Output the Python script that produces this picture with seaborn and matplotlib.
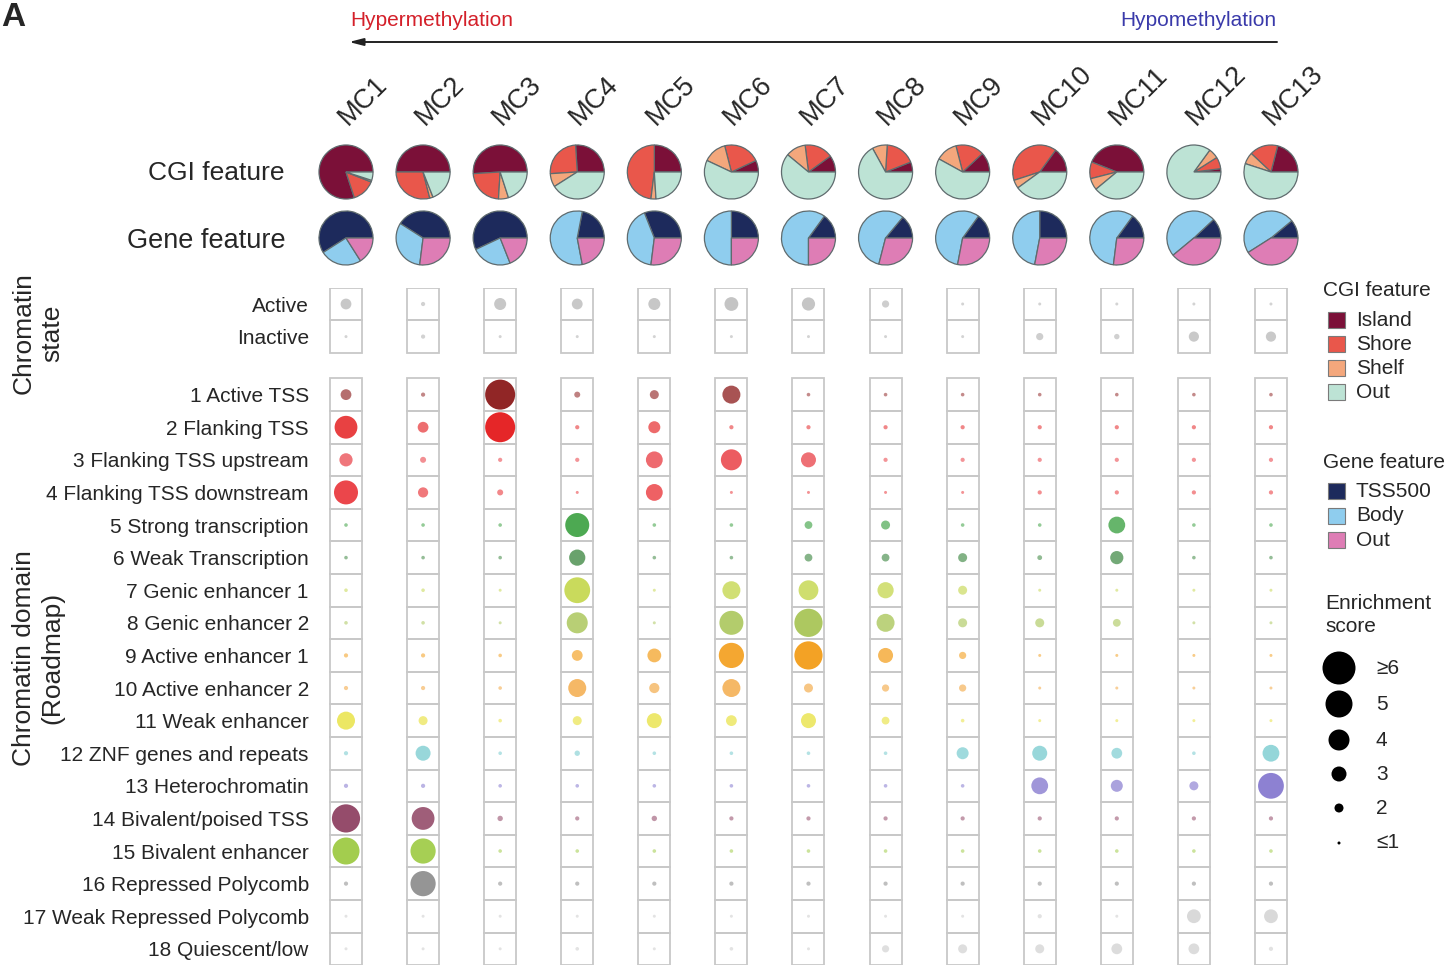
import numpy as np
import pandas as pd
import matplotlib
matplotlib.use("Agg")
import matplotlib.pyplot as plt
import matplotlib.transforms as mtransforms
from matplotlib.patches import Rectangle
import seaborn as sns

sns.set_theme(style="white")
plt.rcParams["font.family"] = ["Liberation Sans", "DejaVu Sans"]

# ---------------------------------------------------------------- data
clusters = ["MC1", "MC2", "MC3", "MC4", "MC5", "MC6", "MC7",
            "MC8", "MC9", "MC10", "MC11", "MC12", "MC13"]

# CGI feature composition of each methylation cluster
cgi_island = [0.80, 0.50, 0.51, 0.26, 0.25, 0.07, 0.10, 0.06, 0.12, 0.15, 0.44, 0.02, 0.21]
cgi_shore  = [0.14, 0.29, 0.23, 0.25, 0.48, 0.22, 0.17, 0.18, 0.17, 0.40, 0.10, 0.07, 0.17]
cgi_shelf  = [0.01, 0.02, 0.06, 0.08, 0.03, 0.14, 0.12, 0.09, 0.13, 0.05, 0.07, 0.06, 0.07]
cgi_out    = [0.05, 0.19, 0.20, 0.41, 0.24, 0.57, 0.61, 0.67, 0.58, 0.40, 0.39, 0.85, 0.55]

# Gene feature composition of each methylation cluster
gene_tss500 = [0.59, 0.41, 0.57, 0.22, 0.31, 0.25, 0.15, 0.14, 0.15, 0.25, 0.15, 0.12, 0.11]
gene_body   = [0.25, 0.32, 0.24, 0.56, 0.42, 0.50, 0.60, 0.57, 0.57, 0.47, 0.58, 0.49, 0.48]
gene_out    = [0.16, 0.27, 0.19, 0.22, 0.27, 0.25, 0.25, 0.29, 0.28, 0.28, 0.27, 0.39, 0.41]

# Enrichment scores: chromatin state
state_labels = ["Active", "Inactive"]
score_active   = [2.3, 1.2, 2.5, 2.3, 2.5, 2.8, 2.7, 1.7, 1.0, 1.0, 1.0, 1.0, 1.0]
score_inactive = [1.0, 1.2, 1.0, 1.0, 1.0, 1.0, 1.0, 1.0, 1.0, 1.7, 1.4, 2.2, 2.2]

# Enrichment scores: Roadmap 18-state chromatin domains
domain_labels = [
    "1 Active TSS", "2 Flanking TSS", "3 Flanking TSS upstream",
    "4 Flanking TSS downstream", "5 Strong transcription", "6 Weak Transcription",
    "7 Genic enhancer 1", "8 Genic enhancer 2", "9 Active enhancer 1",
    "10 Active enhancer 2", "11 Weak enhancer", "12 ZNF genes and repeats",
    "13 Heterochromatin", "14 Bivalent/poised TSS", "15 Bivalent enhancer",
    "16 Repressed Polycomb", "17 Weak Repressed Polycomb", "18 Quiescent/low",
]
score_tssa     = [2.3, 1.2, 5.5, 1.5, 2.0, 3.5, 1.1, 1.1, 1.1, 1.1, 1.1, 1.1, 1.1]
score_tssflnk  = [4.3, 2.3, 5.5, 1.2, 2.5, 1.2, 1.2, 1.2, 1.2, 1.2, 1.2, 1.2, 1.2]
score_tssflnku = [2.7, 1.5, 1.2, 1.2, 3.3, 4.0, 3.0, 1.2, 1.2, 1.2, 1.2, 1.2, 1.2]
score_tssflnkd = [4.5, 2.2, 1.5, 1.0, 3.3, 1.0, 1.0, 1.0, 1.0, 1.2, 1.2, 1.2, 1.2]
score_tx       = [1.1, 1.1, 1.1, 4.5, 1.1, 1.1, 1.8, 2.0, 1.1, 1.1, 3.3, 1.1, 1.1]
score_txwk     = [1.1, 1.1, 1.1, 3.2, 1.1, 1.1, 1.8, 1.8, 2.0, 1.3, 2.7, 1.1, 1.1]
score_enhg1    = [1.1, 1.1, 1.0, 4.8, 1.0, 3.5, 3.8, 3.2, 2.0, 1.0, 1.0, 1.0, 1.0]
score_enhg2    = [1.1, 1.1, 1.0, 4.0, 1.0, 4.5, 5.2, 3.5, 2.0, 2.0, 1.8, 1.0, 1.0]
score_enha1    = [1.2, 1.2, 1.1, 2.3, 2.8, 4.7, 5.2, 3.0, 1.7, 1.0, 1.0, 1.0, 1.0]
score_enha2    = [1.2, 1.2, 1.1, 3.5, 2.2, 3.5, 2.0, 1.7, 1.7, 1.0, 1.0, 1.0, 1.0]
score_enhwk    = [3.5, 2.0, 1.1, 2.0, 3.0, 2.3, 3.0, 1.8, 1.1, 1.0, 1.0, 1.0, 1.0]
score_znf      = [1.2, 3.0, 1.1, 1.4, 1.1, 1.1, 1.1, 1.1, 2.5, 3.0, 2.3, 1.1, 3.3]
score_het      = [1.2, 1.2, 1.1, 1.1, 1.1, 1.1, 1.1, 1.1, 1.1, 3.3, 2.5, 2.0, 4.8]
score_tssbiv   = [5.2, 4.3, 1.4, 1.2, 1.4, 1.2, 1.2, 1.2, 1.2, 1.2, 1.2, 1.2, 1.2]
score_enhbiv   = [5.0, 4.7, 1.1, 1.1, 1.1, 1.1, 1.1, 1.1, 1.1, 1.1, 1.1, 1.1, 1.1]
score_reprpc   = [1.2, 4.7, 1.2, 1.2, 1.2, 1.2, 1.2, 1.2, 1.2, 1.2, 1.2, 1.2, 1.2]
score_reprpcwk = [1.0, 1.0, 1.0, 1.0, 1.0, 1.0, 1.0, 1.0, 1.0, 1.2, 1.0, 2.8, 2.8]
score_quies    = [1.0, 1.0, 1.0, 1.1, 1.0, 1.1, 1.0, 1.7, 2.0, 2.0, 2.3, 2.3, 1.2]

size_legend_scores = [6, 5, 4, 3, 2, 1]
size_legend_labels = ["\u22656", "5", "4", "3", "2", "\u22641"]

# ---------------------------------------------------------------- styles
cgi_colors = ["#7b1038", "#e9574b", "#f4a77c", "#bde3d5"]
cgi_names = ["Island", "Shore", "Shelf", "Out"]
gene_colors = ["#1d2a5c", "#8fcdee", "#de7db5"]
gene_names = ["TSS500", "Body", "Out"]

state_colors = ["#a9a9a9", "#a9a9a9"]
domain_colors = [
    "#8b1a1a", "#e41a1c", "#e8333a", "#e8262b", "#2e9a34", "#2f7f34",
    "#c2d545", "#a6c452", "#f39a12", "#f2a033", "#e6df2f", "#6cc7cb",
    "#7d70cc", "#8c3d5e", "#99c83b", "#858585", "#c8c8c8", "#c8c8c8",
]
domain_scores = [score_tssa, score_tssflnk, score_tssflnku, score_tssflnkd,
                 score_tx, score_txwk, score_enhg1, score_enhg2, score_enha1,
                 score_enha2, score_enhwk, score_znf, score_het, score_tssbiv,
                 score_enhbiv, score_reprpc, score_reprpcwk, score_quies]

row_labels = state_labels + domain_labels
row_scores = [score_active, score_inactive] + domain_scores
row_colors = state_colors + domain_colors
group_gap = 1.78
row_y = [0.0, 1.0] + [1.0 + group_gap + k for k in range(len(domain_labels))]


def marker_area(score):
    """Marker area (pt^2) for an enrichment score; diameter grows linearly."""
    s = min(max(score, 1.0), 6.0)
    return (0.72 * (6.0 * s - 3.0)) ** 2


def marker_alpha(score):
    return min(1.0, 0.5 + 0.1 * (max(score, 1.0) - 1.0))


# ---------------------------------------------------------------- figure
W, H = 1454, 969
fig = plt.figure(figsize=(W / 100, H / 100), dpi=100)

col_px = 77.08
x_left, x_right = 346 - 0.5 * col_px, 346 + 12.5 * col_px
row_px = 32.6
y_top = 304 - 0.5 * row_px
y_lim_bottom = row_y[-1] + 0.5
y_bottom = y_top + (y_lim_bottom + 0.5) * row_px

ax = fig.add_axes([x_left / W, 1 - y_bottom / H,
                   (x_right - x_left) / W, (y_bottom - y_top) / H])

records = []
for label, scores, y in zip(row_labels, row_scores, row_y):
    for i, sc in enumerate(scores):
        records.append({"x": i, "y": y, "state": label, "score": sc})
df = pd.DataFrame(records)

palette = dict(zip(row_labels, row_colors))
sizes = {v: marker_area(v) for v in df["score"].unique()}
sns.scatterplot(data=df, x="x", y="y", hue="state", palette=palette,
                size="score", sizes=sizes, legend=False, linewidth=0,
                ax=ax, zorder=3)
pts = ax.collections[-1]
fc = pts.get_facecolors()
fc[:, 3] = [marker_alpha(v) for v in df["score"]]
pts.set_facecolors(fc)

# cell frames
half_w = 16.0 / col_px
for i in range(len(clusters)):
    for y in row_y:
        ax.add_patch(Rectangle((i - half_w, y - 0.5), 2 * half_w, 1.0,
                               fill=False, ec="#c8c8c8", lw=1.3, zorder=1))

ax.set_xlim(-0.5, len(clusters) - 0.5)
ax.set_ylim(y_lim_bottom, -0.5)
ax.set_xticks([])
ax.set_yticks(row_y)
ax.set_yticklabels(row_labels, fontsize=15)
ax.tick_params(axis="y", length=0, pad=-1)
for sp in ax.spines.values():
    sp.set_visible(False)
ax.set_xlabel("")
ax.set_ylabel("")

# cluster labels
trans = mtransforms.blended_transform_factory(ax.transData, fig.transFigure)
for i, name in enumerate(clusters):
    ax.text(i + 0.02, 1 - 126 / H, name, transform=trans, rotation=45,
            rotation_mode="anchor", ha="left", va="baseline", fontsize=19.5)

# ---------------------------------------------------------------- pies
pie_top, pie_bottom = 130, 280
pax = fig.add_axes([x_left / W, 1 - pie_bottom / H,
                    (x_right - x_left) / W, (pie_bottom - pie_top) / H])
pie_r = 27.0 / col_px
cgi_y = (pie_bottom - 172) / col_px
gene_y = (pie_bottom - 238) / col_px
wedge_kw = dict(edgecolor="#5f6b6e", linewidth=0.9)
for i in range(len(clusters)):
    pax.pie([cgi_island[i], cgi_shore[i], cgi_shelf[i], cgi_out[i]],
            colors=cgi_colors, center=(i, cgi_y), radius=pie_r,
            startangle=0, counterclock=True, wedgeprops=wedge_kw)
    pax.pie([gene_tss500[i], gene_body[i], gene_out[i]],
            colors=gene_colors, center=(i, gene_y), radius=pie_r,
            startangle=0, counterclock=True, wedgeprops=wedge_kw)
pax.set_xlim(-0.5, len(clusters) - 0.5)
pax.set_ylim(0, (pie_bottom - pie_top) / col_px)
pax.set_aspect("equal")
pax.axis("off")

# ---------------------------------------------------------------- annotations
oax = fig.add_axes([0, 0, 1, 1])
oax.set_xlim(0, W)
oax.set_ylim(H, 0)
oax.axis("off")

oax.text(1, 2, "A", fontsize=24, fontweight="bold", va="top", ha="left")
oax.text(350, 20, "Hypermethylation", color="#d4202a", fontsize=15,
         ha="left", va="center")
oax.text(1276, 20, "Hypomethylation", color="#3a3aaa", fontsize=15,
         ha="right", va="center")
oax.annotate("", xy=(349, 42), xytext=(1277, 42),
             arrowprops=dict(arrowstyle="-|>,head_length=0.7,head_width=0.18",
                             color="#222222", lw=1.4, shrinkA=0, shrinkB=0))

oax.text(284, 173, "CGI feature", fontsize=19, ha="right", va="center")
oax.text(286, 241, "Gene feature", fontsize=19.5, ha="right", va="center")
oax.text(38, 333, "Chromatin\nstate", fontsize=19, rotation=90,
         ha="center", va="center", multialignment="center")
oax.text(38, 658, "Chromatin domain\n(Roadmap)", fontsize=19, rotation=90,
         ha="center", va="center", multialignment="center")

# legend: CGI feature
oax.text(1323, 290, "CGI feature", fontsize=15, ha="left", va="center")
for k, (c, n) in enumerate(zip(cgi_colors, cgi_names)):
    yc = 320 + 24 * k
    oax.add_patch(Rectangle((1328, yc - 8), 17, 16, fc=c, ec="#7a7a7a", lw=0.8))
    oax.text(1356, yc, n, fontsize=15, ha="left", va="center")

# legend: Gene feature
oax.text(1323, 462, "Gene feature", fontsize=15, ha="left", va="center")
for k, (c, n) in enumerate(zip(gene_colors, gene_names)):
    yc = 491 + 24.5 * k
    oax.add_patch(Rectangle((1328, yc - 8), 17, 16, fc=c, ec="#7a7a7a", lw=0.8))
    oax.text(1356, yc, n, fontsize=15, ha="left", va="center")

# legend: enrichment score
oax.text(1325, 615, "Enrichment\nscore", fontsize=15, ha="left", va="center",
         linespacing=1.3)
leg_y = [668, 704, 740, 774, 808, 843]
leg_df = pd.DataFrame({"x": [1339] * 6, "y": leg_y, "score": size_legend_scores})
oax.scatter(leg_df["x"], leg_df["y"],
            s=[marker_area(v) for v in leg_df["score"]], c="black", lw=0)
for yc, lab in zip(leg_y, size_legend_labels):
    oax.text(1376, yc, lab, fontsize=15, ha="left", va="center")
oax.set_xlim(0, W)
oax.set_ylim(H, 0)

fig.savefig("out.png", dpi=100)
